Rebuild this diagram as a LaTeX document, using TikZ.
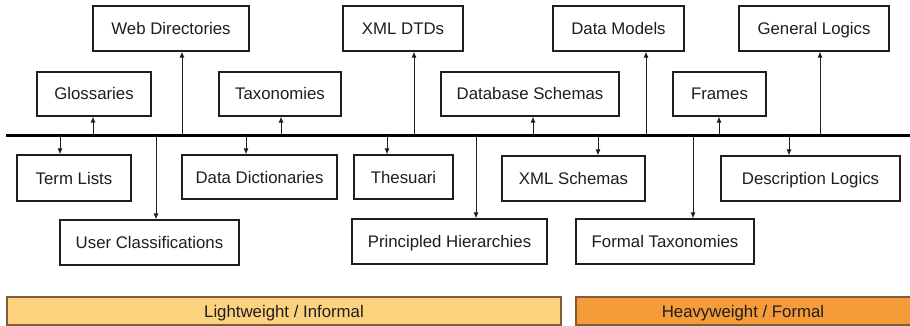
\documentclass[tikz,border=0pt]{standalone}
\usepackage{fontspec}
\setmainfont{Liberation Sans}
\usetikzlibrary{arrows.meta}
\definecolor{ink}{HTML}{1E1E1E}
\definecolor{lightband}{HTML}{FCD27F}
\definecolor{heavyband}{HTML}{F59B3A}
\definecolor{bandedge}{HTML}{7E5C3C}
\tikzset{
  label font/.style={font=\fontsize{16.8}{18}\selectfont, text=ink,
    text height=12pt, text depth=0pt},
  term/.style={draw=ink, line width=1.1pt, fill=white, inner sep=0pt,
    label font, minimum height=45pt},
  conn/.style={draw=ink, line width=1pt, -{Latex[length=6pt,width=5pt]}},
  axis/.style={draw=black, line width=3.6pt},
  band/.style={draw=bandedge, line width=1.4pt, inner sep=0pt,
    label font, minimum height=28pt},
}
\begin{document}
\begin{tikzpicture}[x=1pt,y=-1pt]
\useasboundingbox (0,0) rectangle (910,326);

% spectrum axis
\coordinate (axL) at (6,135.5);
\coordinate (axR) at (912,135.5);
\draw[axis] (axL) -- (axR);

% terms above the axis
\node[term, minimum width=156pt] (web)   at (171,28.5)   {Web Directories};
\node[term, minimum width=120pt] (dtd)   at (403,28.5)   {XML DTDs};
\node[term, minimum width=131pt] (dm)    at (618.5,28.5) {Data Models};
\node[term, minimum width=150pt] (gl)    at (814,28.5)   {General Logics};
\node[term, minimum width=114pt, minimum height=44pt] (gloss) at (94,94)    {Glossaries};
\node[term, minimum width=122pt, minimum height=44pt] (taxo)  at (280,94)   {Taxonomies};
\node[term, minimum width=178pt, minimum height=44pt] (dbs)   at (530,94)   {Database Schemas};
\node[term, minimum width=93pt,  minimum height=44pt] (frm)   at (719.5,94) {Frames};

% terms below the axis
\node[term, minimum width=114pt, minimum height=46pt] (tl)  at (74,178)    {Term Lists};
\node[term, minimum width=155pt, minimum height=44pt] (dd)  at (259.5,177) {Data Dictionaries};
\node[term, minimum width=99pt,  minimum height=44pt] (th)  at (403.5,177) {Thesuari};
\node[term, minimum width=143pt] (xs)  at (573.5,178.5) {XML Schemas};
\node[term, minimum width=179pt] (dl)  at (810.5,178.5) {Description Logics};
\node[term, minimum width=179pt] (uc)  at (149.5,242.5) {User Classifications};
\node[term, minimum width=195pt] (ph)  at (449.5,241.5) {Principled Hierarchies};
\node[term, minimum width=178pt] (ft)  at (665,241.5)   {Formal Taxonomies};

% roots of the connectors on the axis
\foreach \n/\x in {rgloss/93, rweb/182, rtaxo/281, rdtd/414, rdbs/533,
                   rdm/646, rfrm/719, rgl/820,
                   rtl/60, ruc/156, rdd/246, rth/387, rph/476,
                   rxs/598, rft/693, rdl/789}
  \coordinate (\n) at (\x,135.5);

% upward connectors
\foreach \r/\b in {rgloss/gloss, rweb/web, rtaxo/taxo, rdtd/dtd,
                   rdbs/dbs, rdm/dm, rfrm/frm, rgl/gl}
  \draw[conn] (\r) -- (\r |- \b.south);

% downward connectors
\foreach \r/\b in {rtl/tl, ruc/uc, rdd/dd, rth/th, rph/ph,
                   rxs/xs, rft/ft, rdl/dl}
  \draw[conn] (\r) -- (\r |- \b.north);

% classification bands
\node[band, fill=lightband, minimum width=554pt] (light) at (284,311) {Lightweight / Informal};
\node[band, fill=heavyband, minimum width=338pt] (heavy) at (745,311) {};
\node[label font, inner sep=0pt] (heavytxt) at (743,311) {Heavyweight / Formal};
\end{tikzpicture}
\end{document}
